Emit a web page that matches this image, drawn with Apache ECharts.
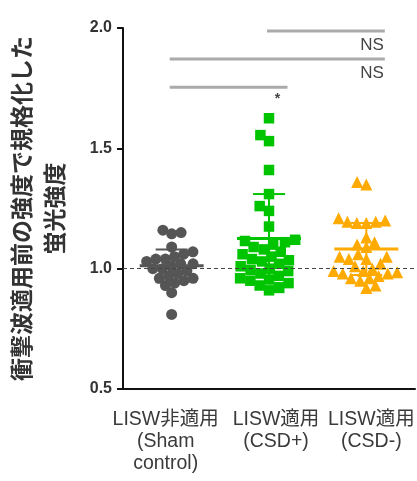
<!DOCTYPE html>
<html><head><meta charset="utf-8">
<script src="https://cdn.jsdelivr.net/npm/echarts@6/dist/echarts.min.js"></script>
<style>html,body{margin:0;padding:0;background:#fff}#c{width:417px;height:481px}</style>
</head><body><div id="c"></div>
<script>
// ---------- data ----------
const categories = ['LISW非適用\n(Sham\ncontrol)', 'LISW適用\n(CSD+)', 'LISW適用\n(CSD-)'];
const yTickValues = [0.5, 1.0, 1.5, 2.0];
const shamValues = [1.16, 1.15, 1.145, 1.09, 1.07, 1.06, 1.05, 1.04, 1.04, 1.03, 1.02, 1.02, 1.01, 1.00, 1.00, 0.99, 0.98, 0.97, 0.96, 0.96, 0.95, 0.94, 0.93, 0.90, 0.81];
const csdPlusValues = [1.625, 1.555, 1.53, 1.41, 1.31, 1.26, 1.24, 1.175, 1.12, 1.115, 1.11, 1.10, 1.09, 1.08, 1.07, 1.06, 1.05, 1.04, 1.035, 1.03, 1.02, 1.01, 1.00, 0.995, 0.99, 0.98, 0.97, 0.96, 0.955, 0.95, 0.94, 0.93, 0.92, 0.91];
const csdMinusValues = [1.36, 1.35, 1.21, 1.20, 1.195, 1.195, 1.19, 1.19, 1.13, 1.11, 1.10, 1.09, 1.06, 1.05, 1.05, 1.04, 1.04, 1.02, 1.01, 1.00, 0.99, 0.99, 0.985, 0.98, 0.98, 0.97, 0.96, 0.96, 0.95, 0.93, 0.92];
const groupMeans = [1.012, 1.125, 1.082];
const groupSDs = [0.068, 0.185, 0.108];
const referenceLevel = 1.0;
// comparisons, top to bottom: [groupA, groupB, label]
const comparisons = [[1, 2, 'NS'], [0, 2, 'NS'], [0, 1, '*']];

// ---------- styles ----------
const groupColors = ['#555555', '#00c400', '#ffaa00'];
const groupSymbols = ['circle', 'rect', 'triangle'];
const FONT = "'Liberation Sans', 'Noto Sans CJK JP', sans-serif";
const labelPads = [[0, 12, 0, 0], [0, 0, 0, 14], [0, 0, 0, 10]];

const chart = echarts.init(document.getElementById('c'), null, {renderer: 'canvas'});

const baseOption = {
  animation: false,
  backgroundColor: '#fff',
  grid: {left: 123, right: 2, top: 28, bottom: 92, containLabel: false, outerBoundsMode: 'none'},
  xAxis: [
    {
      type: 'category', position: 'bottom',
      data: categories.map((c, i) => ({value: c, textStyle: {padding: labelPads[i]}})),
      axisLine: {onZero: false, lineStyle: {color: '#111', width: 2}},
      axisTick: {alignWithLabel: true, length: 4, lineStyle: {color: '#111', width: 2}},
      axisLabel: {fontSize: 19.5, lineHeight: 22, color: '#3a3a3a', margin: 20, fontFamily: FONT, interval: 0, hideOverlap: false}
    },
    {type: 'value', show: false, min: -0.5, max: 2.5}
  ],
  yAxis: [{
    type: 'value', min: 0.5, max: 2.0, interval: 0.5,
    name: '衝撃波適用前の強度で規格化した\n蛍光強度',
    nameLocation: 'middle', nameRotate: 90, nameGap: 52, nameMoveOverlap: false,
    nameTextStyle: {fontSize: 23, fontWeight: 'bold', lineHeight: 33, color: '#333', fontFamily: "'Noto Sans CJK JP', sans-serif"},
    axisLine: {show: true, onZero: false, lineStyle: {color: '#111', width: 2}},
    axisTick: {show: true, length: 6, lineStyle: {color: '#111', width: 2}},
    splitLine: {show: false},
    axisLabel: {fontSize: 16, fontWeight: 'bold', color: '#333', margin: 11, fontFamily: FONT,
      formatter: v => yTickValues.includes(v) ? v.toFixed(1) : ''}
  }],
  series: []
};
chart.setOption(baseOption);

// beeswarm layout computed from values in pixel space
const p0 = chart.convertToPixel({xAxisIndex: 1, yAxisIndex: 0}, [0, 1]);
const p1 = chart.convertToPixel({xAxisIndex: 1, yAxisIndex: 0}, [1, 2]);
const pxPerX = p1[0] - p0[0];
const pxPerY = p0[1] - p1[1];

function swarm(values, D) {
  const order = values.map((v, i) => i).sort((a, b) => values[a] - values[b]);
  const placed = [];
  const off = new Array(values.length);
  let flip = 1;
  for (const i of order) {
    const y = values[i] * pxPerY;
    const cands = [0];
    for (const p of placed) {
      const dy = y - p.y;
      if (Math.abs(dy) < D) {
        const dx = Math.sqrt(D * D - dy * dy);
        cands.push(p.x + dx, p.x - dx);
      }
    }
    cands.sort((a, b) => (Math.abs(a) - Math.abs(b)) || (flip * (a - b)));
    flip = -flip;
    let chosen = 0;
    for (const cx of cands) {
      if (placed.every(p => (p.x - cx) ** 2 + (p.y - y) ** 2 >= D * D - 1e-6)) { chosen = cx; break; }
    }
    placed.push({x: chosen, y});
    off[i] = chosen / pxPerX;
  }
  return off;
}

const groups = [shamValues, csdPlusValues, csdMinusValues];
const swarmDist = [9.5, 10.5, 9.5];
const scatterSeries = groups.map((vals, g) => {
  const off = swarm(vals, swarmDist[g]);
  return {
    type: 'scatter', xAxisIndex: 1, yAxisIndex: 0, z: 3,
    symbol: groupSymbols[g], symbolSize: g === 2 ? 12 : (g === 1 ? 10.5 : 11),
    itemStyle: {color: groupColors[g], opacity: 1},
    data: vals.map((v, i) => [g + off[i], v])
  };
});

const errorSeries = {
  type: 'custom', xAxisIndex: 1, yAxisIndex: 0, z: 5,
  data: groupMeans.map((m, g) => [g, m, groupSDs[g]]),
  renderItem(params, api) {
    const g = api.value(0), m = api.value(1), s = api.value(2);
    const c = api.coord([g, m]), t = api.coord([g, m + s]), b = api.coord([g, m - s]);
    const col = groupColors[params.dataIndex];
    const st = w => ({stroke: col, lineWidth: w});
    return {type: 'group', children: [
      {type: 'line', shape: {x1: c[0] - 32, y1: c[1], x2: c[0] + 32, y2: c[1]}, style: st(3)},
      {type: 'line', shape: {x1: t[0], y1: t[1], x2: b[0], y2: b[1]}, style: st(2)},
      {type: 'line', shape: {x1: t[0] - 16, y1: t[1], x2: t[0] + 16, y2: t[1]}, style: st(2)},
      {type: 'line', shape: {x1: b[0] - 16, y1: b[1], x2: b[0] + 16, y2: b[1]}, style: st(2)}
    ]};
  },
  markLine: {
    silent: true, symbol: 'none', label: {show: false},
    lineStyle: {type: [4, 3], color: '#444', width: 1},
    data: [{yAxis: referenceLevel}]
  }
};

const sigSeries = {
  type: 'custom', xAxisIndex: 1, yAxisIndex: 0, z: 6,
  data: comparisons.map((c, i) => [c[0], c[1], i]),
  renderItem(params, api) {
    const a = api.value(0), b = api.value(1), lvl = api.value(2);
    const yv = 1.988 - lvl * 0.117;
    const s = api.coord([a - 0.02, yv]);
    const e = api.coord([b + 0.19, yv]);
    const text = comparisons[params.dataIndex][2];
    const isStar = text === '*';
    return {type: 'group', children: [
      {type: 'line', shape: {x1: s[0], y1: s[1], x2: e[0], y2: e[1]}, style: {stroke: '#aaaaaa', lineWidth: 3}},
      {type: 'text', x: isStar ? e[0] - 10 : e[0] - 1, y: s[1] + (isStar ? 5 : 6),
        style: {text, fontSize: isStar ? 14 : 17, fontWeight: isStar ? 'bold' : 'normal', fill: '#444',
          align: isStar ? 'center' : 'right', verticalAlign: 'top', fontFamily: FONT}}
    ]};
  }
};

chart.setOption({series: [...scatterSeries, errorSeries, sigSeries]});
</script>
</body></html>
